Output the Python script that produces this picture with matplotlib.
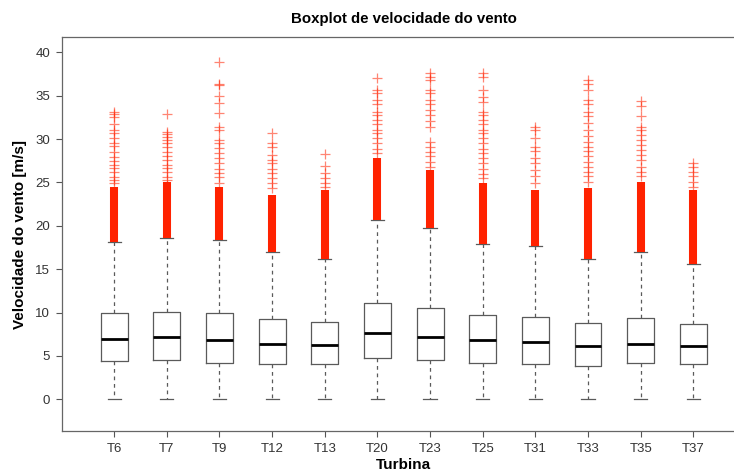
import numpy as np
import matplotlib
matplotlib.use("Agg")
import matplotlib.pyplot as plt

plt.rcParams['font.family'] = ['Liberation Sans', 'DejaVu Sans']

turbinas = ['T6', 'T7', 'T9', 'T12', 'T13', 'T20', 'T23', 'T25', 'T31', 'T33', 'T35', 'T37']

q1 = [4.38, 4.49, 4.18, 4.03, 4.03, 4.72, 4.49, 4.18, 4.11, 3.88, 4.18, 4.03]
mediana = [6.92, 7.14, 6.84, 6.41, 6.22, 7.61, 7.22, 6.80, 6.61, 6.14, 6.41, 6.14]
q3 = [9.91, 10.10, 9.91, 9.22, 8.87, 11.07, 10.56, 9.68, 9.49, 8.80, 9.33, 8.64]
bigode_inf = [0, 0, 0, 0, 0, 0, 0, 0, 0, 0, 0, 0]
bigode_sup = [18.13, 18.56, 18.40, 17.02, 16.21, 20.67, 19.71, 17.94, 17.63, 16.13, 16.94, 15.56]

# topo da faixa densa de outliers (aparece como coluna vermelha sólida)
denso_topo = [24.5, 25.0, 24.5, 23.55, 24.1, 27.8, 26.4, 24.9, 24.1, 24.3, 25.1, 24.1]

# outliers isolados acima da faixa densa
outliers = [
    [33.15, 32.9, 32.5, 31.7, 31.1, 30.66, 30.08, 29.5, 29.2, 28.54, 27.97, 27.47, 27.0, 26.63, 26.24, 25.66, 25.28, 24.9],
    [32.85, 30.85, 30.58, 30.27, 29.89, 29.5, 29.04, 28.54, 28.05, 27.59, 27.0, 26.63, 26.24, 25.66, 25.3],
    [38.85, 36.4, 36.2, 35.0, 34.2, 33.0, 31.4, 31.0, 29.9, 29.5, 28.93, 28.35, 27.8, 27.2, 26.5, 26.1, 25.66, 24.9],
    [30.66, 29.5, 29.1, 28.16, 27.6, 27.2, 26.6, 26.1, 25.5, 24.9, 24.3],
    [28.23, 26.89, 26.05, 25.5, 24.9, 24.5],
    [37.07, 35.65, 35.3, 34.5, 34.0, 33.15, 32.8, 32.2, 31.7, 31.1, 30.7, 30.1, 29.5, 28.9, 28.35],
    [37.57, 37.2, 36.8, 35.65, 35.3, 34.5, 34.0, 33.4, 32.8, 32.1, 31.4, 29.7, 29.1, 28.5, 28.0, 27.4, 26.8],
    [37.65, 37.2, 35.7, 34.9, 34.3, 33.15, 32.8, 32.2, 31.7, 31.1, 30.7, 30.1, 29.5, 28.9, 28.35, 27.8, 27.2, 26.6, 26.0, 25.5],
    [31.4, 31.05, 30.1, 29.1, 28.6, 27.8, 27.2, 26.4, 25.7, 24.9],
    [36.8, 36.4, 35.7, 34.5, 34.0, 33.15, 32.6, 31.8, 31.1, 30.3, 29.7, 29.1, 28.6, 28.0, 27.4, 26.8, 26.2, 25.7, 25.1],
    [34.4, 33.8, 32.6, 31.4, 31.05, 30.5, 29.9, 29.3, 28.7, 28.2, 27.6, 26.8, 26.2, 25.7],
    [27.2, 26.8, 26.2, 25.7, 25.1, 24.5],
]

fig = plt.figure(figsize=(7.34, 4.71), dpi=100)
ax = fig.add_axes([62.5 / 734, 1 - 431 / 471, (745 - 62.5) / 734, (431 - 37.3) / 471])

pos = np.arange(1, len(turbinas) + 1)
stats = []
for i in range(len(turbinas)):
    stats.append(dict(q1=q1[i], med=mediana[i], q3=q3[i],
                      whislo=bigode_inf[i], whishi=bigode_sup[i], fliers=[]))

cinza = '#5a5a5a'
ax.bxp(stats, positions=pos, widths=0.51, capwidths=0.25, showfliers=False,
       boxprops=dict(color=cinza, linewidth=0.9),
       medianprops=dict(color='black', linewidth=2.0),
       whiskerprops=dict(color=cinza, linewidth=0.9, linestyle=(0, (3, 3))),
       capprops=dict(color=cinza, linewidth=0.9), zorder=2)

vermelho = '#ff2200'
ax.vlines(pos, bigode_sup, denso_topo, colors=vermelho, linewidth=5.8, zorder=3)
for i, vals in enumerate(outliers):
    ax.plot(np.full(len(vals), pos[i]), vals, linestyle='none', marker='+',
            markersize=7, markeredgewidth=0.9, color=vermelho, alpha=0.55, zorder=3)

ax.set_xlim(0.02, 12.98)
ax.set_ylim(-3.66, 41.73)
ax.set_xticks(pos)
ax.set_xticklabels(turbinas)
ax.set_yticks([0, 5, 10, 15, 20, 25, 30, 35, 40])

for s in ['left', 'top', 'bottom', 'right']:
    ax.spines[s].set_color('#666666')
    ax.spines[s].set_linewidth(0.9)
ax.tick_params(axis='both', direction='out', length=4, width=0.8, color='#555555',
               labelsize=9.5, labelcolor='#333333', pad=5)

ax.set_title('Boxplot de velocidade do vento', fontsize=10.8, fontweight='bold', pad=10)
ax.set_ylabel('Velocidade do vento [m/s]', fontsize=11, fontweight='bold', labelpad=6)
fig.text(403.5 / 734, 1 - 465 / 471, 'Turbina', fontsize=11, fontweight='bold',
         ha='center', va='center')

fig.savefig('out.png', dpi=100)
